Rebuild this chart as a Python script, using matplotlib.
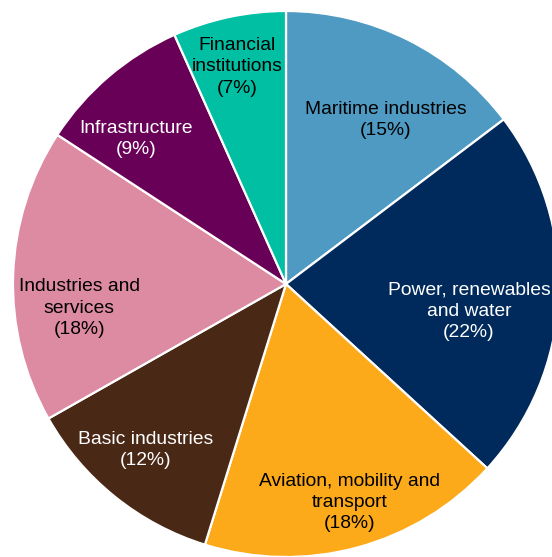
import matplotlib
matplotlib.use("Agg")
import matplotlib.pyplot as plt

categories = ["Maritime industries", "Power, renewables\nand water", "Aviation, mobility and\ntransport",
              "Basic industries", "Industries and\nservices", "Infrastructure", "Financial\ninstitutions"]
values = [14.7, 22.1, 18.0, 12.0, 17.4, 9.1, 6.7]
pct_labels = ["15%", "22%", "18%", "12%", "18%", "9%", "7%"]

colors = ["#4E9AC2", "#002A5C", "#FDAA1A", "#4A2816", "#DD8AA3", "#690057", "#00BFA3"]
text_colors = ["black", "white", "black", "white", "black", "white", "black"]
# label centers relative to pie center, in units of radius
label_pos = [(0.366, 0.600), (0.670, -0.099), (0.234, -0.800), (-0.516, -0.608),
             (-0.758, -0.088), (-0.549, 0.530), (-0.179, 0.795)]

plt.rcParams['font.family'] = ['Liberation Sans', 'DejaVu Sans']
W, H = 552, 557
fig = plt.figure(figsize=(W / 100, H / 100), dpi=100)
R = 273
cx, cy = 286, 284
ax = fig.add_axes([(cx - R) / W, (H - cy - R) / H, 2 * R / W, 2 * R / H])

ax.pie(values, colors=colors, startangle=90, counterclock=False, radius=1,
       wedgeprops=dict(edgecolor='white', linewidth=1.6))
ax.set_xlim(-1, 1)
ax.set_ylim(-1, 1)
ax.set_aspect('equal')
ax.axis('off')

for cat, pct, (x, y), tc in zip(categories, pct_labels, label_pos, text_colors):
    ax.text(x, y, f"{cat}\n({pct})", ha='center', va='center', color=tc,
            fontsize=13.9, linespacing=1.32)

fig.savefig("out.png", dpi=100)
